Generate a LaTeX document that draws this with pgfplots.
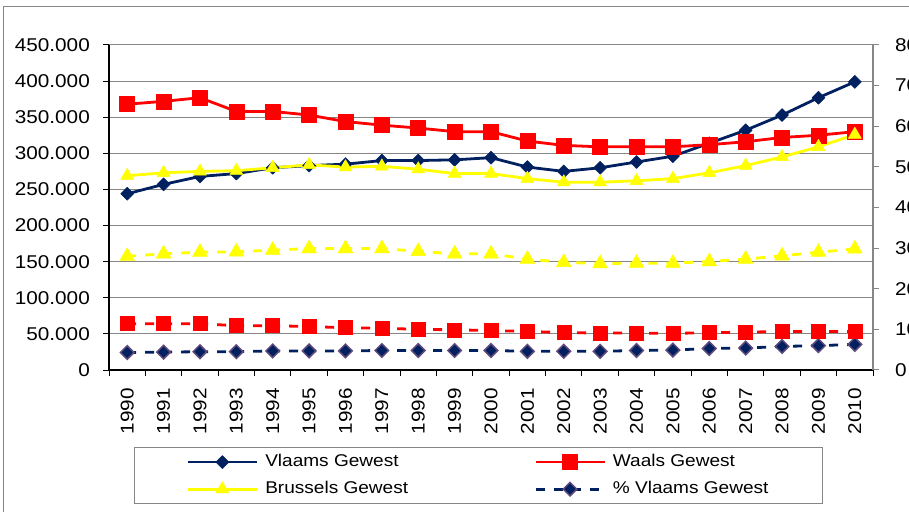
\documentclass[border=0pt]{standalone}
\usepackage{pgfplots}
\usepackage{pgfplotstable}
\pgfplotsset{compat=1.18}
\usepackage{fontspec}
\setmainfont{Liberation Sans}[FakeStretch=1.12]
\definecolor{navy}{RGB}{0,32,96}
\definecolor{dpurple}{RGB}{96,74,123}
\definecolor{gridgray}{RGB}{134,134,134}
\definecolor{yel}{RGB}{255,255,0}
\definecolor{rd}{RGB}{255,0,0}

\pgfplotstableread{
x vl wa br pvl pwa pbr
0  244 368 269 4.3 11.4 28.0
1  257 372 273 4.4 11.4 28.6
2  268 377 275 4.5 11.4 29.0
3  272 358 276 4.5 10.9 29.1
4  280 358 280 4.7 10.9 29.5
5  283 353 284 4.7 10.7 29.9
6  285 344 281 4.7 10.4 29.9
7  290 339 282 4.8 10.3 29.9
8  290 335 278 4.8 10.0 29.2
9  291 330 272 4.8 9.9 28.6
10 294 330 272 4.8 9.7 28.6
11 281 317 265 4.6 9.5 27.3
12 275 311 260 4.6 9.2 26.5
13 280 309 260 4.6 9.1 26.2
14 288 309 262 4.8 9.1 26.3
15 296 309 265 4.9 9.0 26.3
16 314 312 273 5.3 9.2 26.7
17 332 316 283 5.4 9.3 27.3
18 353 322 295 5.8 9.5 28.1
19 377 325 309 6.0 9.5 29.0
20 399 330 326 6.3 9.5 29.8
}\data

\begin{document}
\fontsize{18.5}{22}\selectfont
\begin{tikzpicture}
\draw[gridgray, line width=1pt] (3pt,504pt) rectangle (960pt,-30pt);
\begin{axis}[
  at={(109pt,141pt)}, anchor=south west,
  scale only axis, width=764pt, height=325pt,
  xmin=-0.5, xmax=20.5, ymin=0, ymax=450,
  axis x line*=bottom, axis y line*=left,
  axis line style={black, line width=1.2pt},
  xtick={0,...,20},
  xticklabels={1990,1991,1992,1993,1994,1995,1996,1997,1998,1999,2000,2001,2002,2003,2004,2005,2006,2007,2008,2009,2010},
  minor xtick={-0.5,0.5,...,20.5},
  ytick={0,50,...,450},
  minor ytick={0,50,...,450},
  yticklabels={0,50.000,100.000,150.000,200.000,250.000,300.000,350.000,400.000,450.000},
  major tick length=0pt, minor tick length=6pt, tick align=outside,
  tick style={black, line width=1pt},
  ymajorgrids, major grid style={gridgray, line width=1pt},
  xticklabel style={rotate=90, anchor=east, inner sep=0pt},
  xticklabel shift=18pt,
  yticklabel style={anchor=east, inner sep=0pt},
  yticklabel shift=19pt,
  legend columns=2,
  legend cell align=left,
  legend style={at={(0.0327,-0.237)}, anchor=north west,
    draw=gridgray, line width=1pt, font=\fontsize{17}{20}\selectfont,
    inner xsep=52pt, inner ysep=5pt, row sep=8pt,
    nodes={inner sep=2pt},
    /tikz/column 2/.style={column sep=124pt}},
  legend image code/.code={\draw[mark repeat=2,mark phase=2] plot coordinates {(0pt,0pt) (34.5pt,0pt) (69pt,0pt)};
    \path (74pt,0pt);},
]
\addplot[navy, line width=2.8pt, line join=round, mark=square*, mark size=4.6pt,
  mark options={rotate=45, solid, fill=navy, draw=navy, line width=0.5pt}]
  table[x=x, y=vl] {\data};
\addlegendentry{Vlaams Gewest}
\addplot[rd, line width=2.8pt, line join=round, mark=square*, mark size=7.5pt,
  mark options={solid, fill=rd, draw=rd, line width=0.5pt}]
  table[x=x, y=wa] {\data};
\addlegendentry{Waals Gewest}
\addplot[yel, line width=2.8pt, line join=round, mark=triangle*, mark size=7.5pt,
  mark options={solid, fill=yel, draw=yel, line width=0.5pt}]
  table[x=x, y=br] {\data};
\addlegendentry{Brussels Gewest}
\addlegendimage{navy, line width=2.8pt, dash pattern=on 9pt off 9pt, mark=square*, mark size=4.8pt,
  mark options={rotate=45, solid, fill=navy, draw=dpurple, line width=1.5pt}}
\addlegendentry{\% Vlaams Gewest}
\end{axis}
\begin{axis}[
  at={(109pt,141pt)}, anchor=south west,
  scale only axis, width=764pt, height=325pt,
  xmin=-0.5, xmax=20.5, ymin=0, ymax=80,
  axis y line*=right, axis x line=none,
  axis line style={gridgray, line width=1.2pt},
  ytick={0,10,...,80},
  yticklabels={0,10,20,30,40,50,60,70,80},
  major tick length=6pt, tick align=outside,
  ytick style={gridgray, line width=1pt},
  yticklabel style={anchor=west, inner sep=0pt},
  yticklabel shift=16pt,
]
\addplot[navy, line width=2.8pt, dash pattern=on 9pt off 9pt, mark=square*, mark size=4.8pt,
  mark options={rotate=45, solid, fill=navy, draw=dpurple, line width=1.5pt}]
  table[x=x, y=pvl] {\data};
\addplot[rd, line width=2.8pt, dash pattern=on 9pt off 9pt, mark=square*, mark size=7pt,
  mark options={solid, fill=rd, draw=rd, line width=0.5pt}]
  table[x=x, y=pwa] {\data};
\addplot[yel, line width=2.8pt, dash pattern=on 9pt off 9pt, mark=triangle*, mark size=8.5pt,
  mark options={solid, fill=yel, draw=yel, line width=0.5pt}]
  table[x=x, y=pbr] {\data};
\end{axis}
\pgfresetboundingbox
\path (0,0) rectangle (909pt,511pt);
\end{tikzpicture}
\end{document}
